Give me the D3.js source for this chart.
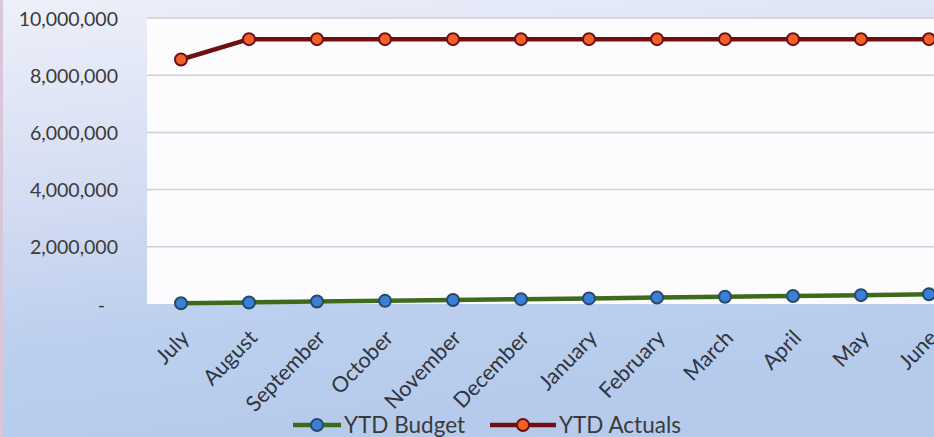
<!DOCTYPE html>
<html>
<head>
<meta charset="utf-8">
<script src="https://cdn.jsdelivr.net/npm/d3@7"></script>
<style>
  html, body { margin: 0; padding: 0; background: #fff; }
  svg { display: block; }
</style>
</head>
<body>
<svg id="chart" width="934" height="437"></svg>
<script>
// Monthly year-to-date figures, fiscal year July–June
const months = ["July", "August", "September", "October", "November", "December",
                "January", "February", "March", "April", "May", "June"];
const ytdBudget = [25000, 55000, 85000, 110000, 140000, 170000,
                   195000, 225000, 255000, 280000, 310000, 340000];
const ytdActuals = [8550000, 9260000, 9260000, 9260000, 9260000, 9260000,
                    9260000, 9260000, 9260000, 9260000, 9260000, 9260000];
const yTicks = [0, 2000000, 4000000, 6000000, 8000000, 10000000];
const seriesNames = ["YTD Budget", "YTD Actuals"];

const W = 934, H = 437;
const margin = { left: 147, top: 18, bottom: 133 };
const step = 68;
const plotW = months.length * step;
const plotH = H - margin.top - margin.bottom;
const font = "Lato, 'Open Sans', sans-serif";

const svg = d3.select("#chart");
const defs = svg.append("defs");

// soft blue backdrop behind the whole chart
const bg = defs.append("linearGradient").attr("id", "bg")
  .attr("x1", 0).attr("y1", 0).attr("x2", 0.25).attr("y2", 1);
bg.append("stop").attr("offset", "0%").attr("stop-color", "#eef0fa");
bg.append("stop").attr("offset", "45%").attr("stop-color", "#d3dcf2");
bg.append("stop").attr("offset", "75%").attr("stop-color", "#bccfee");
bg.append("stop").attr("offset", "100%").attr("stop-color", "#b6cbec");

svg.append("rect").attr("width", W).attr("height", H).attr("fill", "url(#bg)");
svg.append("rect").attr("width", 3).attr("height", H).attr("fill", "#d9c6d8");

const x = d3.scalePoint().domain(months)
  .range([margin.left, margin.left + plotW]).padding(0.5);
const y = d3.scaleLinear().domain([0, 10000000])
  .range([margin.top + plotH, margin.top]);

// plot area
svg.append("rect")
  .attr("x", margin.left).attr("y", margin.top)
  .attr("width", plotW).attr("height", plotH)
  .attr("fill", "#fcfcfe");

// horizontal gridlines
svg.append("g")
  .selectAll("line")
  .data(yTicks.filter(d => d > 0))
  .join("line")
  .attr("x1", margin.left).attr("x2", margin.left + plotW)
  .attr("y1", d => y(d)).attr("y2", d => y(d))
  .attr("stroke", "#cfcfd4").attr("stroke-width", 1.5);

// y axis labels (accounting style: zero shown as a dash)
const fmt = d => d === 0 ? "-" : d3.format(",")(d);
const yAxis = d3.axisLeft(y).tickValues(yTicks).tickFormat(fmt).tickSize(0).tickPadding(0);
const gy = svg.append("g").attr("transform", `translate(${margin.left - 29},0)`).call(yAxis);
gy.select(".domain").remove();
gy.selectAll("text")
  .attr("font-family", font).attr("font-size", 19.5)
  .attr("fill", "#3a3a3a")
  .attr("dx", d => d === 0 ? -13 : 0)
  .attr("dy", "0.36em");

// x axis labels, rotated
const xAxis = d3.axisBottom(x).tickSize(0).tickPadding(0);
const gx = svg.append("g").attr("transform", `translate(0,${margin.top + plotH})`).call(xAxis);
gx.select(".domain").remove();
gx.selectAll("text")
  .attr("font-family", font).attr("font-size", 21.5)
  .attr("fill", "#2f3440")
  .attr("text-anchor", "end")
  .attr("dy", null)
  .attr("transform", "translate(9,35) rotate(-46)");

// series
const series = [
  { name: seriesNames[0], values: ytdBudget, line: "#3d6b1c", fill: "#3a7fd6", stroke: "#27496b" },
  { name: seriesNames[1], values: ytdActuals, line: "#6e1010", fill: "#f1602a", stroke: "#6e1010" }
];

const lineGen = d3.line().x((d, i) => x(months[i])).y(d => y(d));

series.forEach(s => {
  svg.append("path")
    .datum(s.values)
    .attr("d", lineGen)
    .attr("fill", "none")
    .attr("stroke", s.line)
    .attr("stroke-width", 4.5)
    .attr("stroke-linejoin", "round");
  svg.append("g")
    .selectAll("circle")
    .data(s.values)
    .join("circle")
    .attr("cx", (d, i) => x(months[i]))
    .attr("cy", d => y(d))
    .attr("r", 6)
    .attr("fill", s.fill)
    .attr("stroke", s.stroke)
    .attr("stroke-width", 2);
});

// legend
const legendY = 425;
const legendItems = [
  { s: series[0], x0: 293, x1: 341, tx: 344 },
  { s: series[1], x0: 490, x1: 556, tx: 559 }
];
const lg = svg.append("g");
legendItems.forEach(it => {
  lg.append("line")
    .attr("x1", it.x0).attr("x2", it.x1)
    .attr("y1", legendY).attr("y2", legendY)
    .attr("stroke", it.s.line).attr("stroke-width", 4.5);
  lg.append("circle")
    .attr("cx", (it.x0 + it.x1) / 2).attr("cy", legendY).attr("r", 6)
    .attr("fill", it.s.fill).attr("stroke", it.s.stroke).attr("stroke-width", 2);
  lg.append("text")
    .attr("x", it.tx).attr("y", legendY)
    .attr("dy", "0.36em")
    .attr("font-family", font).attr("font-size", 22.5)
    .attr("fill", "#3a3a3a")
    .text(it.s.name);
});
</script>
</body>
</html>
